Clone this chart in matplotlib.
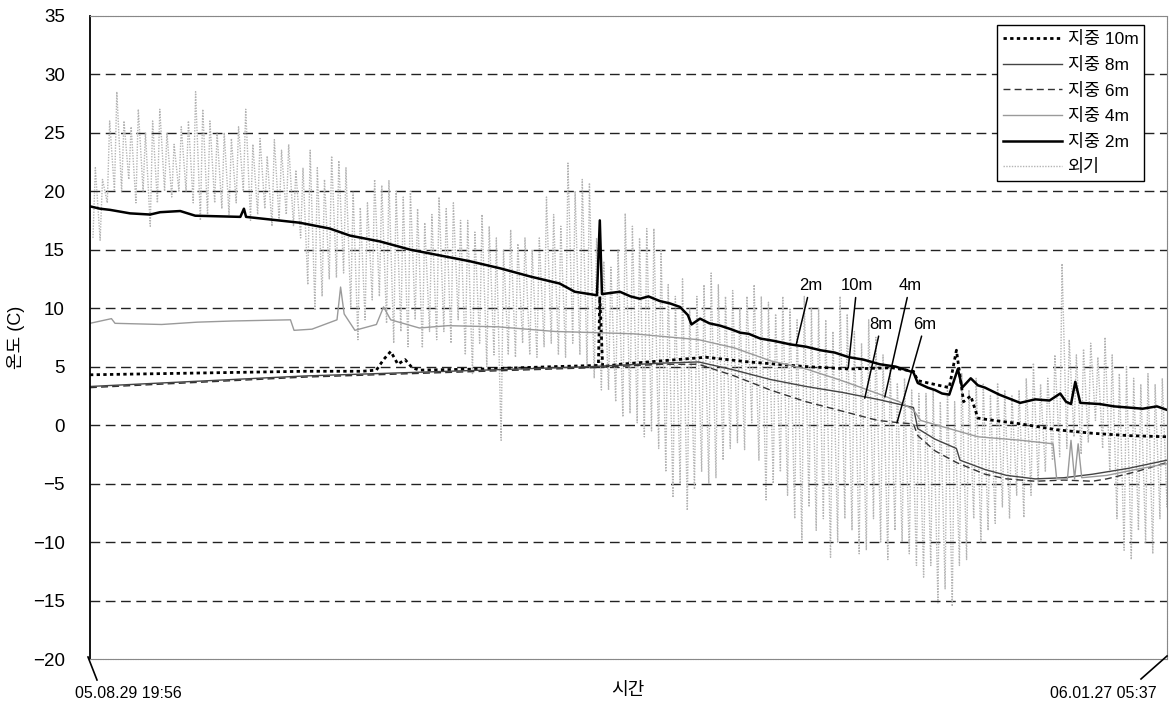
import numpy as np
import matplotlib.pyplot as plt
from matplotlib.lines import Line2D

plt.rcParams['font.family'] = ['Liberation Sans', 'Noto Sans CJK KR']

# time axis in days since 05.08.29 19:56 (end 06.01.27 05:37)
t_end = 150.4
start_label = '05.08.29 19:56'
end_label = '06.01.27 05:37'

# soil temperature (days, deg C)
t_2m = [0, 1.4, 2.8, 5.6, 8.4, 9.8, 12.6, 14.7, 21, 21.5, 21.8, 29.3, 33.5, 36.3, 40.5,
        44.7, 48.9, 53.1, 57.3, 61.5, 65.6, 67.7, 70.8, 71.2, 71.5, 74, 75.5, 76.8, 78,
        79.6, 81, 82.4, 83.5, 84, 85.2, 86.5, 88, 89.5, 90.8, 92, 93.6, 95.5, 97.8, 100,
        102, 104, 106, 108, 110.3, 112.5, 115, 115.6, 117, 118, 119, 120, 121.2, 121.8,
        123, 124, 125, 127, 129.9, 132, 134, 135.5, 136.3, 137, 137.6, 138.3, 141, 143,
        145, 147, 149, 150.4]
v_2m = [18.7, 18.5, 18.4, 18.1, 18.0, 18.2, 18.3, 17.9, 17.8, 18.5, 17.8, 17.3, 16.8, 16.2,
        15.7, 15.0, 14.5, 14.0, 13.4, 12.7, 12.1, 11.4, 11.1, 17.5, 11.2, 11.4, 11.0, 10.8,
        11.0, 10.6, 10.4, 10.1, 9.4, 8.6, 9.1, 8.7, 8.5, 8.2, 7.9, 7.8, 7.4, 7.2, 6.9, 6.7,
        6.4, 6.2, 5.8, 5.6, 5.2, 5.0, 4.5, 3.6, 3.2, 3.0, 2.7, 2.6, 4.8, 3.2, 4.0, 3.4,
        3.2, 2.6, 1.9, 2.2, 2.1, 2.7, 2.0, 1.8, 3.7, 1.9, 1.8, 1.6, 1.5, 1.4, 1.6, 1.3]

t_10m = [0, 10, 20, 30, 38, 40, 41, 42, 43, 44, 45, 46, 55, 65, 71, 71.2, 71.6, 74, 80, 86,
         92, 100, 106, 112, 115, 115.6, 120, 121, 122, 123, 124, 125, 130, 135, 140, 145,
         150.4]
v_10m = [4.3, 4.4, 4.5, 4.6, 4.6, 4.7, 5.6, 6.3, 5.2, 5.6, 4.9, 4.7, 4.8, 5.0, 5.1, 11.0,
         5.0, 5.2, 5.5, 5.8, 5.4, 5.0, 4.8, 4.9, 4.6, 3.8, 3.2, 6.4, 2.0, 2.5, 0.6, 0.5,
         0.1, -0.4, -0.7, -0.9, -1.0]

t_8m = [0, 10, 20, 30, 40, 50, 60, 70, 80, 85, 90, 95, 100, 105, 110, 115, 115.6, 118,
        121, 121.5, 125, 128, 132, 136, 140, 145, 150.4]
v_8m = [3.3, 3.6, 3.9, 4.2, 4.4, 4.6, 4.8, 5.0, 5.3, 5.4, 4.7, 3.9, 3.3, 2.8, 2.2, 1.5,
        -0.3, -1.2, -2.0, -3.0, -3.8, -4.3, -4.6, -4.5, -4.2, -3.7, -3.0]

t_6m = [0, 10, 20, 30, 40, 50, 60, 70, 80, 85, 90, 95, 100, 105, 110, 113, 115, 115.6,
        118, 121, 125, 128, 132, 136, 140, 142, 146, 150.4]
v_6m = [3.2, 3.5, 3.8, 4.1, 4.3, 4.5, 4.7, 4.9, 5.2, 5.2, 4.2, 3.0, 2.0, 1.2, 0.4, 0.2,
        0.1, -0.9, -2.2, -3.2, -4.2, -4.6, -4.8, -4.7, -4.8, -4.6, -4.0, -3.2]

t_4m = [0, 3, 3.5, 10, 15, 20, 28, 28.5, 31, 34.5, 35, 35.5, 37, 40, 41, 42, 46, 50, 57,
        65, 71, 76, 85, 90, 95, 100, 105, 110, 113, 115, 116, 124, 130, 134.5, 135, 136.5,
        137, 137.5, 138, 138.5, 142, 146, 150.4]
v_4m = [8.7, 9.1, 8.7, 8.6, 8.8, 8.9, 9.0, 8.1, 8.2, 9.0, 11.8, 9.5, 8.1, 8.6, 10.1, 9.0,
        8.3, 8.5, 8.4, 8.0, 7.9, 7.8, 7.3, 6.6, 5.5, 4.8, 3.8, 2.7, 2.0, 1.3, 0.4, -1.0,
        -1.3, -1.6, -4.6, -4.6, -1.3, -4.6, -1.6, -4.5, -4.3, -3.8, -3.3]

# outside air: daily high / low
air_hi = [22, 21, 26, 28.5, 26, 25.5, 27, 25, 26, 27,
          25, 24, 25.5, 26, 28.5, 27, 26, 25, 25, 24.5,
          25.5, 27, 24, 24.5, 23, 24.4, 23.5, 24, 21.8, 22,
          23.5, 22, 21, 23, 22.6, 22, 20, 18.6, 19, 21,
          20.5, 20.9, 20, 19.5, 20, 18.5, 17.3, 18, 19.5, 18.5,
          19, 17.5, 17.5, 16.5, 18, 17, 16, 15, 16.7, 15.5,
          16, 15, 16, 19.5, 18, 17, 22.4, 20, 21, 20.7,
          16, 14, 13.5, 15, 18.1, 17, 16, 16.8, 16.8, 15,
          12, 11, 12.5, 10, 11, 12, 13, 12, 11, 11.5,
          10, 11, 12, 11, 10.5, 9.5, 11, 10, 9, 11,
          10, 10, 9, 8, 11, 9.5, 8, 7, 9, 7.5,
          6, 5, 3.6, 4, 3, 2.7, 2.7, 3, 2, 3.5,
          2, 4.4, 3, 4, 3.5, 2.5, 3.6, 3, 2.5, 3,
          4, 5.3, 3.5, 4, 6, 13.8, 7.3, 6, 6.5, 7,
          5.8, 7.5, 6, 4.4, 5, 4, 3.5, 4.4, 3.5, 4,
          3]
air_lo = [16, 15.8, 19, 20, 20, 21, 19, 20, 17, 19,
          20, 19.5, 20, 20, 19, 17.5, 18, 19, 18.5, 18,
          19, 20, 17.5, 18, 18.5, 17, 17.5, 18, 17, 16,
          12, 9.8, 11, 12.5, 12.6, 13, 10, 7.3, 9, 10.7,
          11, 8.7, 7, 8, 6.7, 9, 6.6, 8, 7.3, 8,
          7, 9, 6, 4.4, 7, 5, 6, -1.3, 6, 5.8,
          7, 6, 5.8, 6.7, 7, 6, 5.8, 7, 6, 5,
          4, 3, 3, 2, 0.7, 1, 0.2, -1, -0.5, -2,
          -4, -6.2, -5, -7.3, -5.5, -4, -5, -4.5, -3, -2,
          -1.5, -2.1, 0.2, -3, -6.4, -5, -4, -6, -8, -9.8,
          -7, -9, -8, -11.3, -10, -8, -9, -11, -10.7, -8,
          -10, -11.5, -9, -10, -11, -12, -13, -12, -15.2, -14,
          -15.5, -12, -11.5, -8, -10, -9, -8.4, -7, -8, -6,
          -7.9, -6, -5, -4, -3, -2.7, -2, -1, -2.5, -1.5,
          0.4, -2, -4, -8, -10.7, -11.5, -9, -10, -11, -8,
          -7]

days = np.arange(len(air_hi))
t_air = np.column_stack([days + 0.42, days + 0.75]).ravel()
v_air = np.column_stack([air_lo, air_hi]).ravel()

W, H = 1176, 713
fig = plt.figure(figsize=(W / 100, H / 100), dpi=100)
ax = fig.add_axes([0.0765, 0.0757, 0.9158, 0.9023])

l_air, = ax.plot(t_air, v_air, color='#b4b4b4', lw=1.0, ls=(0, (1, 1)), label='외기')
l10, = ax.plot(t_10m, v_10m, color='black', lw=2.0, ls=(0, (1.2, 1.2)), label='지중 10m')
l8, = ax.plot(t_8m, v_8m, color='#444444', lw=1.0, label='지중 8m')
l6, = ax.plot(t_6m, v_6m, color='#333333', lw=1.0, ls=(0, (5, 3)), label='지중 6m')
l4, = ax.plot(t_4m, v_4m, color='#9a9a9a', lw=1.0, label='지중 4m')
l2, = ax.plot(t_2m, v_2m, color='black', lw=1.8, label='지중 2m')

ax.set_xlim(0, t_end)
ax.set_ylim(-20, 35)
ax.set_yticks(range(-20, 36, 5))
ax.set_xticks([])
ax.tick_params(axis='y', length=0, labelsize=13.5, pad=18)
for v in range(-15, 35, 5):
    ax.axhline(v, color='#222222', lw=1.0, ls=(0, (7, 4)), zorder=0)

for side in ['top', 'right', 'bottom']:
    ax.spines[side].set_color('#888888')
    ax.spines[side].set_linestyle((0, (1, 0.5)))
ax.spines['left'].set_linewidth(1.3)

ax.set_ylabel('온도 (C)', fontsize=13)
ax.yaxis.set_label_coords(-0.06, 0.5)
fig.text(628 / W, 1 - 690 / H, '시간', ha='center', va='center', fontsize=13)

# end-point labels with slanted leaders (pixel positions)
def px(x, y):
    return x / W, 1 - y / H

for (x0, y0), (x1, y1), (tx, ty), lab in [((88, 657), (97, 680), (128, 694), start_label),
                                          ((1167, 656), (1141, 679), (1103, 694), end_label)]:
    a, b = px(x0, y0)
    c, d = px(x1, y1)
    fig.add_artist(Line2D([a, c], [b, d], color='black', lw=1.2, transform=fig.transFigure))
    fig.text(*px(tx, ty), lab, ha='center', va='center', fontsize=11.5)

# depth labels
notes = [('2m', (100.6, 11.9), (98.6, 6.8)),
         ('10m', (107.1, 11.9), (105.9, 4.9)),
         ('4m', (114.5, 11.9), (111.0, 2.4)),
         ('8m', (110.5, 8.6), (108.2, 2.3)),
         ('6m', (116.6, 8.6), (112.7, 0.2))]
for txt, pos, tip in notes:
    ax.annotate(txt, xy=tip, xytext=pos, ha='center', va='center', fontsize=12,
                arrowprops=dict(arrowstyle='-', lw=1.1, color='black', shrinkA=1, shrinkB=0))

leg = ax.legend(handles=[l10, l8, l6, l4, l2, l_air], loc='upper right',
                bbox_to_anchor=(0.979, 0.985), fancybox=False, framealpha=1,
                edgecolor='black', fontsize=12.5, handlelength=3.4, labelspacing=0.55,
                borderpad=0.35, handletextpad=0.3, borderaxespad=0)
leg.get_frame().set_linewidth(1.0)

fig.savefig('out.png', dpi=100)
